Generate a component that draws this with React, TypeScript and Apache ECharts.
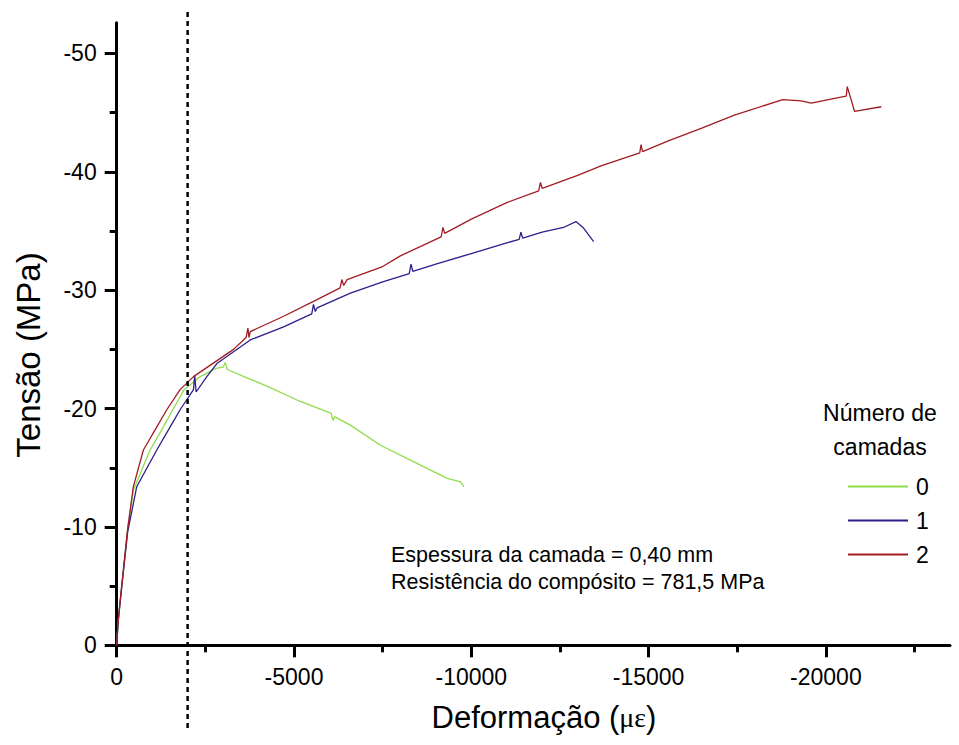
import React, { useEffect, useRef } from "react";
import * as echarts from "echarts";

// ---- data ----
const X_MIN = -23500;
const Y_MIN = -52.6;
const X_MAJOR = [0, -5000, -10000, -15000, -20000];
const X_MINOR = [-2500, -7500, -12500, -17500, -22500];
const Y_MAJOR = [0, -10, -20, -30, -40, -50];
const Y_MINOR = [-5, -15, -25, -35, -45];
const DOTTED_STRAIN = -2000;

const layers = ["0", "1", "2"];
const colors = ["#8fdc4c", "#2b1f8c", "#a11c22"];

const curve0: [number, number][] = [
  [0, 0], [-40, -2], [-141, -5.0], [-311, -9.9], [-470, -13.1], [-941, -16.5],
  [-1271, -18.2], [-1582, -19.9], [-1901, -21.6], [-2353, -22.7], [-2800, -23.4],
  [-3000, -23.5], [-3060, -23.9], [-3120, -23.3], [-3672, -22.6], [-4237, -21.9],
  [-5178, -20.6], [-6050, -19.6], [-6100, -19.0], [-6150, -19.3], [-6590, -18.6],
  [-7438, -16.9], [-8380, -15.5], [-9322, -14.1], [-9700, -13.8], [-9792, -13.4],
];

const curve1: [number, number][] = [
  [0, 0], [-40, -2], [-141, -4.9], [-311, -9.6], [-565, -13.4], [-1130, -16.5],
  [-1459, -18.2], [-1788, -19.9], [-2165, -21.6], [-2200, -22.8], [-2240, -21.4],
  [-2542, -22.7], [-2825, -23.8], [-3766, -25.8], [-4707, -26.9], [-5500, -28.0],
  [-5550, -28.8], [-5600, -28.2], [-5650, -28.5], [-6590, -29.75], [-7500, -30.7],
  [-8250, -31.4], [-8300, -32.2], [-8350, -31.6], [-9000, -32.2], [-10000, -33.1],
  [-11000, -34.0], [-11350, -34.3], [-11400, -34.9], [-11450, -34.4], [-12000, -34.9],
  [-12600, -35.3], [-12950, -35.8], [-13150, -35.3], [-13450, -34.1],
];

const curve2: [number, number][] = [
  [0, 0], [-40, -2], [-141, -5.0], [-311, -9.9], [-470, -13.4], [-753, -16.5],
  [-1082, -18.2], [-1412, -19.9], [-1788, -21.6], [-2165, -22.7], [-3295, -25.0],
  [-3650, -26.0], [-3700, -26.8], [-3730, -26.0], [-3766, -26.5], [-4707, -27.8],
  [-5650, -29.2], [-6300, -30.2], [-6350, -30.9], [-6400, -30.4], [-6497, -30.9],
  [-7500, -32.0], [-8000, -32.9], [-9150, -34.5], [-9200, -35.3], [-9250, -34.8],
  [-10000, -36.0], [-11000, -37.4], [-11900, -38.4], [-11950, -39.1], [-12000, -38.6],
  [-13000, -39.7], [-13657, -40.5], [-14750, -41.6], [-14787, -42.3], [-14830, -41.7],
  [-15537, -42.6], [-16500, -43.7], [-17420, -44.8], [-18786, -46.1], [-19304, -46.0],
  [-19586, -45.8], [-20245, -46.2], [-20574, -46.4], [-20602, -47.2], [-20810, -45.1],
  [-21563, -45.5],
];

const curves = [curve0, curve1, curve2];

const X_TITLE = "Deformação (";
const Y_TITLE = "Tensão (MPa)";
const LEGEND_TITLE = ["Número de", "camadas"];
const NOTES = ["Espessura da camada = 0,40 mm", "Resistência do compósito = 781,5 MPa"];

const FONT = "'Liberation Sans', Arial, sans-serif";

export default function App() {
  const ref = useRef<HTMLDivElement>(null);
  useEffect(() => {
    if (!ref.current) return;
    const chart = echarts.init(ref.current, null, { renderer: "svg" });
    const axisCommon = (isX: boolean) => ({
      type: "value" as const,
      inverse: true,
      min: isX ? X_MIN : Y_MIN,
      max: 0,
      splitLine: { show: false },
    });
    const option: any = {
      animation: false,
      backgroundColor: "#fff",
      grid: { left: 116.7, right: 9, top: 22.7, bottom: 99.7, containLabel: false },
      xAxis: [
        {
          ...axisCommon(true),
          position: "bottom",
          axisLine: { onZero: false, lineStyle: { color: "#000", width: 3 } },
          axisTick: { customValues: X_MAJOR, length: 12, lineStyle: { color: "#000", width: 3 } },
          axisLabel: {
            customValues: X_MAJOR,
            margin: 20,
            fontSize: 23,
            color: "#000",
            fontFamily: FONT,
            formatter: (v: number) => String(v),
          },
        },
        {
          ...axisCommon(true),
          position: "bottom",
          axisLine: { show: false, onZero: false },
          axisTick: { customValues: X_MINOR, length: 7, lineStyle: { color: "#000", width: 3 } },
          axisLabel: { show: false },
        },
      ],
      yAxis: [
        {
          ...axisCommon(false),
          position: "left",
          axisLine: { show: true, onZero: false, lineStyle: { color: "#000", width: 3 } },
          axisTick: { show: true, customValues: Y_MAJOR, length: 12, lineStyle: { color: "#000", width: 3 } },
          axisLabel: {
            customValues: Y_MAJOR,
            margin: 20,
            fontSize: 23,
            color: "#000",
            fontFamily: FONT,
            formatter: (v: number) => String(v),
          },
        },
        {
          ...axisCommon(false),
          position: "left",
          axisLine: { show: false, onZero: false },
          axisTick: { show: true, customValues: Y_MINOR, length: 7, lineStyle: { color: "#000", width: 3 } },
          axisLabel: { show: false },
        },
      ],
      legend: {
        orient: "vertical",
        left: 843,
        top: 470,
        itemWidth: 60,
        itemHeight: 2,
        itemGap: 11,
        icon: "rect",
        data: layers,
        textStyle: { fontSize: 23, color: "#000", fontFamily: FONT, padding: [0, 0, 0, 3] },
      },
      series: curves.map((c, i) => ({
        name: layers[i],
        type: "line",
        xAxisIndex: 0,
        yAxisIndex: 0,
        data: c,
        showSymbol: false,
        symbol: "none",
        color: colors[i],
        lineStyle: { color: colors[i], width: 1.3 },
        z: 2 + i,
      })),
    };
    chart.setOption(option);
    const dx = chart.convertToPixel({ xAxisIndex: 0 }, DOTTED_STRAIN) as number;
    chart.setOption({
      graphic: [
        {
          type: "line",
          shape: { x1: dx, y1: 12, x2: dx, y2: 731 },
          style: { stroke: "#000", lineWidth: 2.5, lineDash: [5, 4] },
          z: 10,
        },
        {
          type: "text",
          x: 28,
          y: 355,
          rotation: Math.PI / 2,
          style: {
            text: Y_TITLE,
            font: `33px ${FONT}`,
            fill: "#000",
            align: "center",
            verticalAlign: "middle",
          },
        },
        {
          type: "text",
          x: 544,
          y: 717,
          style: {
            text: `{a|${X_TITLE}}{b|με}{a|)}`,
            align: "center",
            verticalAlign: "middle",
            rich: {
              a: { fontSize: 31, fontFamily: FONT, fill: "#000" },
              b: { fontSize: 28, fontFamily: "'Liberation Serif', 'DejaVu Serif', serif", fill: "#000" },
            },
          },
        },
        ...LEGEND_TITLE.map((t, i) => ({
          type: "text",
          x: 880,
          y: 413 + i * 34,
          style: { text: t, font: `23px ${FONT}`, fill: "#000", align: "center", verticalAlign: "middle" },
        })),
        ...NOTES.map((t, i) => ({
          type: "text",
          x: 391,
          y: 555 + i * 27,
          style: { text: t, font: `21.5px ${FONT}`, fill: "#000", align: "left", verticalAlign: "middle" },
        })),
      ],
    });
    return () => chart.dispose();
  }, []);
  return (
    <div
      ref={ref}
      style={{ position: "fixed", left: 0, top: 0, width: 959, height: 745, background: "#fff" }}
    />
  );
}
